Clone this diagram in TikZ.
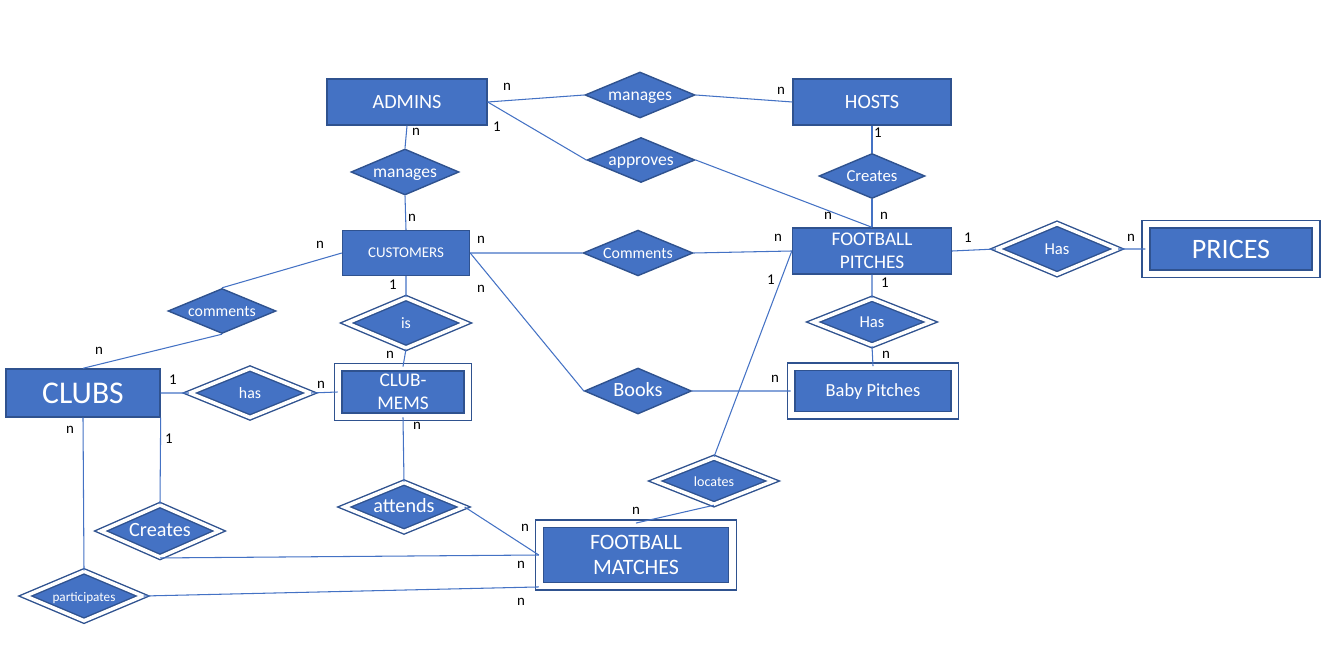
\documentclass[tikz,border=0pt]{standalone}
\usepackage{fontspec}
\setmainfont{Carlito}
\usetikzlibrary{shapes.geometric}
\definecolor{erfill}{HTML}{4472C4}
\definecolor{erborder}{HTML}{2F528F}
\tikzset{
  entity/.style={rectangle,draw=erborder,line width=0.8pt,fill=erfill,text=white,align=center,inner sep=0pt},
  weakentity/.style={entity,double=white,double distance=3.6pt},
  rel/.style={diamond,draw=erborder,line width=0.8pt,fill=erfill,text=white,inner sep=0pt,aspect=2.4,
    text height=1.6ex,text depth=0.4ex},
  weakrel/.style={rel,double=white,double distance=2pt},
  card/.style={text=black,font=\fontsize{8.5}{10}\selectfont,inner sep=0pt},
  link/.style={erfill,line width=0.6pt}
}
\begin{document}
\begin{tikzpicture}[x=0.02cm,y=-0.02cm]
\useasboundingbox (0,0) rectangle (1334,648);
% entities
\node[entity,minimum width=3.2cm,minimum height=0.92cm,font=\fontsize{11.5}{13}\selectfont] (admins) at (407,102) {ADMINS};
\node[entity,minimum width=3.16cm,minimum height=0.92cm,font=\fontsize{11.5}{13}\selectfont] (hosts) at (872,102) {HOSTS};
\node[entity,minimum width=2.54cm,minimum height=0.9cm,font=\fontsize{8.5}{10}\selectfont] (cust) at (406,253) {CUSTOMERS};
\node[entity,minimum width=3.18cm,minimum height=0.92cm,font=\fontsize{11}{13}\selectfont] (fp) at (872,251) {FOOTBALL\\PITCHES};
\node[entity,minimum width=3.08cm,minimum height=0.96cm,font=\fontsize{18}{20}\selectfont] (clubs) at (83,393) {CLUBS};
\node[weakentity,minimum width=3.4cm,minimum height=0.99cm,font=\fontsize{16}{18}\selectfont] (prices) at (1231,249) {PRICES};
\node[weakentity,minimum width=2.59cm,minimum height=0.99cm,font=\fontsize{11}{13}\selectfont] (mems) at (403,392) {CLUB-\\MEMS};
\node[weakentity,minimum width=3.27cm,minimum height=0.97cm,font=\fontsize{10.5}{12}\selectfont,
  text height=1.6ex,text depth=0.4ex] (baby) at (873,391) {Baby Pitches};
\node[weakentity,minimum width=3.86cm,minimum height=1.25cm,font=\fontsize{12.5}{14.7}\selectfont] (matches) at (636,555) {FOOTBALL\\MATCHES};
% relationships
\node[rel,minimum width=2.2cm,minimum height=0.92cm,font=\fontsize{10}{12}\selectfont] (mgr1) at (640,95) {manages};
\node[rel,minimum width=2.16cm,minimum height=0.9cm,font=\fontsize{10}{12}\selectfont] (appr) at (641,160) {approves};
\node[rel,minimum width=2.16cm,minimum height=0.92cm,font=\fontsize{10}{12}\selectfont] (mgr2) at (405,172) {manages};
\node[rel,minimum width=2.12cm,minimum height=0.9cm,font=\fontsize{9.5}{11}\selectfont] (crt1) at (872,176) {Creates};
\node[rel,minimum width=2.12cm,minimum height=0.9cm,font=\fontsize{9}{11}\selectfont] (cmt1) at (638,253) {Comments};
\node[rel,minimum width=2.14cm,minimum height=0.9cm,font=\fontsize{9}{11}\selectfont] (cmt2) at (222,311) {comments};
\node[rel,minimum width=2.14cm,minimum height=0.92cm,font=\fontsize{11.5}{13}\selectfont] (books) at (638,391) {Books};
\node[weakrel,minimum width=2.42cm,minimum height=1.02cm,font=\fontsize{9.5}{11}\selectfont] (has3) at (1057,249) {Has};
\node[weakrel,minimum width=2.38cm,minimum height=1.01cm,font=\fontsize{9}{11}\selectfont] (is) at (406,323) {is};
\node[weakrel,minimum width=2.36cm,minimum height=0.94cm,font=\fontsize{9.5}{11}\selectfont] (has2) at (872,322) {Has};
\node[weakrel,minimum width=2.42cm,minimum height=0.99cm,font=\fontsize{9}{11}\selectfont] (has1) at (250,393) {has};
\node[weakrel,minimum width=2.36cm,minimum height=0.94cm,font=\fontsize{8}{10}\selectfont] (loc) at (714,481) {locates};
\node[weakrel,minimum width=2.4cm,minimum height=0.99cm,font=\fontsize{11.5}{13}\selectfont] (att) at (404,507) {attends};
\node[weakrel,minimum width=2.38cm,minimum height=1.05cm,font=\fontsize{11.5}{13}\selectfont] (crt2) at (160,531) {Creates};
\node[weakrel,minimum width=2.36cm,minimum height=1cm,font=\fontsize{7.5}{9}\selectfont] (part) at (84,596) {participates};
% connectors
\draw[link] (admins.east) -- (mgr1.west) (mgr1.east) -- (hosts.west);
\draw[link] (admins.east) -- (appr.west) (appr.east) -- (fp.north);
\draw[link] (admins.south) -- (mgr2.north) (mgr2.south) -- (cust.north);
\draw[link] (hosts.south) -- (crt1.north) (crt1.south) -- (fp.north);
\draw[link] (cust.east) -- (cmt1.west) (cmt1.east) -- (fp.west);
\draw[link] (cust.east) -- (books.west) (books.east) -- (baby.west);
\draw[link] (cust.west) -- (cmt2.north) (cmt2.south) -- (clubs.north);
\draw[link] (cust.south) -- (is.north) (is.south) -- (mems.north);
\draw[link] (clubs.east) -- (has1.west) (has1.east) -- (mems.west);
\draw[link] (mems.south) -- (att.north) (att.east) -- (matches.west);
\draw[link] (clubs.south east) -- (crt2.north) (crt2.south) -- (matches.west);
\draw[link] (clubs.south) -- (part.north) (part.east) -- (matches.south west);
\draw[link] (fp.west) -- (loc.north) (loc.south) -- (matches.north);
\draw[link] (fp.south) -- (has2.north) (has2.south) -- (baby.north);
\draw[link] (fp.east) -- (has3.west) (has3.east) -- (prices.west);
% cardinalities
\foreach \x/\y/\t [count=\i] in {507/87/n,781/91/n,497/127/1,416/132/n,412/218/n,
    878/133/1,884/216/n,828/216/n,481/240/n,778/238/n,481/289/n,320/245/n,
    99/351/n,393/285/1,390/355/n,173/380/1,321/385/n,417/426/n,70/430/n,
    169/439/1,885/283/1,886/355/n,775/379/n,771/280/1,968/238/1,1131/238/n,
    636/511/n,525/528/n,521/565/n,521/602/n}
  \node[card] (c\i) at (\x,\y) {\t};
\end{tikzpicture}
\end{document}
